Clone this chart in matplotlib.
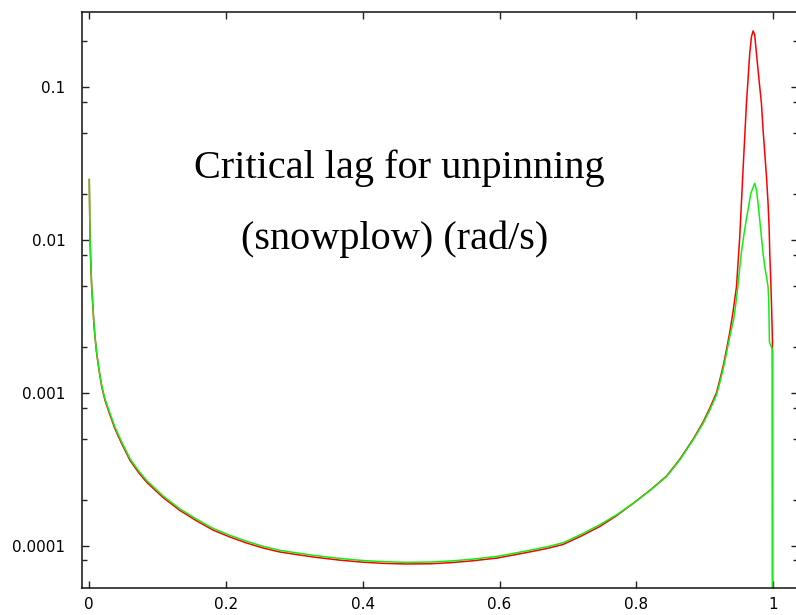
import numpy as np
import matplotlib
matplotlib.use("Agg")
import matplotlib.pyplot as plt
from matplotlib.ticker import LogLocator, FuncFormatter, NullFormatter, FixedLocator

# red curve
x_red = [0.0, 0.0004, 0.001, 0.0025, 0.0035, 0.005, 0.0064, 0.0083, 0.0108,
         0.0142, 0.0181, 0.0230, 0.0296, 0.0376, 0.0474, 0.0595, 0.0716, 0.0839,
         0.1082, 0.1326, 0.1570, 0.1813, 0.2057, 0.2301, 0.2544, 0.2788, 0.3275,
         0.3665, 0.40, 0.43, 0.464, 0.50, 0.53, 0.56, 0.5956, 0.62, 0.645, 0.67,
         0.693, 0.72, 0.7466, 0.7710, 0.7953,
         0.8197, 0.8441, 0.8636, 0.8830, 0.8977, 0.9075, 0.9172, 0.9220, 0.9279,
         0.9319, 0.9367, 0.9415, 0.9465, 0.9513, 0.9561, 0.9611, 0.9659, 0.9684,
         0.9708, 0.9732, 0.9757, 0.9795, 0.9830, 0.9854, 0.9879, 0.9904, 0.9927,
         0.9942, 0.9952, 0.9966, 0.9977, 0.9991, 0.9995]
y_red = [0.0248, 0.0172, 0.0105, 0.00633, 0.00495, 0.00384, 0.00299, 0.00232,
         0.00181, 0.00141, 0.00110, 0.000892, 0.000730, 0.000581, 0.000465,
         0.000362, 0.000303, 0.000260, 0.000206, 0.000170, 0.0001453, 0.0001263,
         0.0001139, 0.0001041, 0.0000965, 0.0000909, 0.0000843, 0.0000804,
         0.0000780, 0.0000766, 0.0000759, 0.0000762, 0.0000775, 0.0000796,
         0.0000829, 0.0000868, 0.0000912, 0.0000960, 0.0001019, 0.000116,
         0.0001336, 0.000157, 0.000189, 0.000230, 0.000285, 0.000368, 0.000497,
         0.000645, 0.000796, 0.00100, 0.00121, 0.00156, 0.00192, 0.00249,
         0.00340, 0.00495, 0.0105, 0.0288, 0.0785, 0.167, 0.214, 0.234, 0.220,
         0.167, 0.1117, 0.0785, 0.0526, 0.0370, 0.0260, 0.0174, 0.01225, 0.0082,
         0.00548, 0.00385, 0.00222, 1e-7]

# green curve
x_green = [0.0, 0.0004, 0.001, 0.0025, 0.0035, 0.005, 0.0064, 0.0083, 0.0108,
           0.0142, 0.0181, 0.0230, 0.0296, 0.0376, 0.0474, 0.0595, 0.0716, 0.0839,
           0.1082, 0.1326, 0.1570, 0.1813, 0.2057, 0.2301, 0.2544, 0.2788, 0.3275,
           0.3665, 0.40, 0.43, 0.464, 0.50, 0.53, 0.56, 0.5956, 0.62, 0.645, 0.67,
           0.693, 0.72, 0.7466, 0.7710, 0.7953,
           0.8197, 0.8441, 0.8636, 0.8830, 0.8977, 0.9075, 0.9172, 0.9220, 0.9279,
           0.9319, 0.9367, 0.9423, 0.9456, 0.9485, 0.9510, 0.9535, 0.9569, 0.9608,
           0.9642, 0.9675, 0.9732, 0.9757, 0.9781, 0.9805, 0.9830, 0.9854, 0.9879,
           0.9904, 0.9927, 0.9937, 0.9942, 0.9947, 0.9952, 0.9977, 0.9991, 0.9995]
y_green = [0.0250, 0.0174, 0.0106, 0.0064, 0.0050, 0.00388, 0.00302, 0.00235,
           0.00184, 0.00143, 0.00112, 0.000912, 0.000748, 0.000596, 0.000477,
           0.000371, 0.000311, 0.000267, 0.000211, 0.000174, 0.000149, 0.0001295,
           0.0001168, 0.0001068, 0.0000990, 0.0000932, 0.0000865, 0.0000825,
           0.0000800, 0.0000786, 0.0000778, 0.0000782, 0.0000795, 0.0000816,
           0.0000850, 0.0000890, 0.0000935, 0.0000985, 0.0001045, 0.000119,
           0.000137, 0.000159, 0.000189, 0.000229, 0.000283, 0.000364, 0.000492,
           0.000632, 0.000773, 0.000968, 0.00116, 0.00149, 0.00182, 0.00233,
           0.00300, 0.00385, 0.00495, 0.00637, 0.00818, 0.01052, 0.01355, 0.01656,
           0.02023, 0.02355, 0.02128, 0.01742, 0.01355, 0.01052, 0.00818, 0.00670,
           0.00575, 0.00495, 0.00398, 0.00300, 0.00216, 0.00211, 0.00200, 0.00191,
           1e-7]

x_ticks = [0, 0.2, 0.4, 0.6, 0.8, 1.0]
title_lines = ["Critical lag for unpinning", "(snowplow) (rad/s)"]

fig = plt.figure(figsize=(7.96, 6.15), dpi=100)
ax = fig.add_axes([0.1030, 0.0444, 0.8991, 0.9361])

ax.plot(x_red, y_red, color="#ff0000", linewidth=1.1)
ax.plot(x_green, y_green, color="#11ee11", linewidth=1.1)

ax.set_yscale("log")
ax.set_xlim(-0.0107, 1.036)
ax.set_ylim(5.31e-5, 0.311)

ax.xaxis.set_major_locator(FixedLocator(x_ticks))
ax.xaxis.set_major_formatter(FuncFormatter(lambda v, p: "%g" % v))
ax.yaxis.set_major_locator(LogLocator(base=10, subs=(1.0,)))
ax.yaxis.set_minor_locator(LogLocator(base=10, subs=(2.0, 5.0, 8.0)))
ax.yaxis.set_major_formatter(FuncFormatter(lambda v, p: "%g" % v))
ax.yaxis.set_minor_formatter(NullFormatter())

ax.tick_params(which="both", direction="in", top=True, right=True,
               color="#222222", width=1.0, labelsize=11)
ax.tick_params(which="major", length=5)
ax.tick_params(which="minor", length=3.3)
ax.tick_params(axis="x", pad=7)
ax.tick_params(axis="y", pad=12)
for s in ax.spines.values():
    s.set_linewidth(1.1)
    s.set_color("#111111")

fig.text(0.5013, 0.7111, title_lines[0], ha="center", va="baseline",
         family="Liberation Serif", fontsize=29)
fig.text(0.4962, 0.5951, title_lines[1], ha="center", va="baseline",
         family="Liberation Serif", fontsize=29)

fig.savefig("out.png", dpi=100, facecolor="white")
